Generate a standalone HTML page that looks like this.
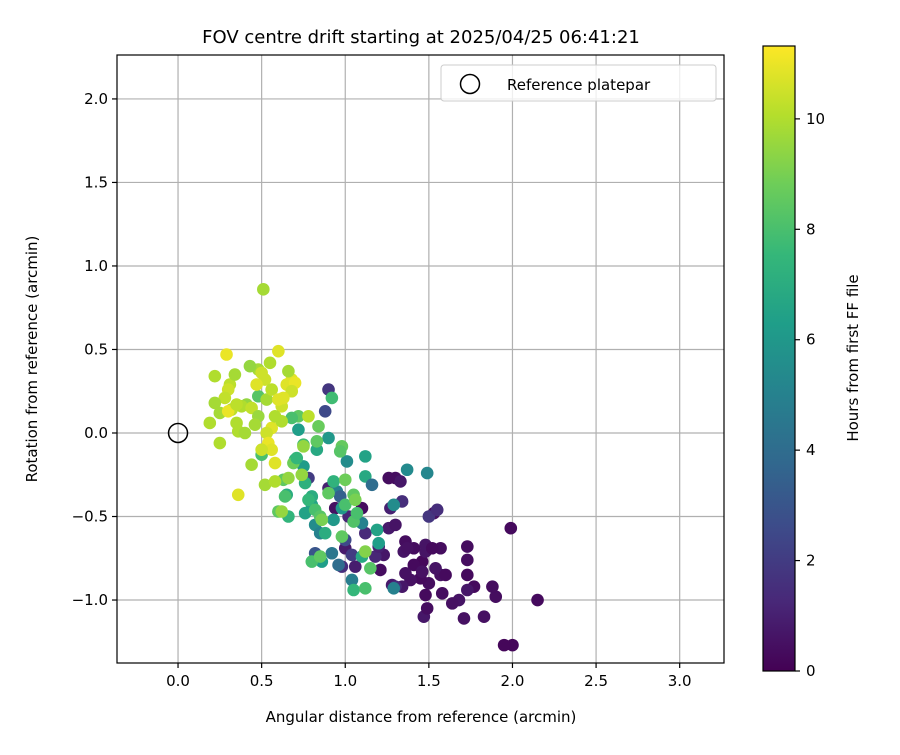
<!DOCTYPE html>
<html><head><meta charset="utf-8"><style>body{margin:0;background:#fff}svg{font-family:"DejaVu Sans","Liberation Sans",sans-serif}</style></head>
<body>
<svg id="c" width="900" height="750" xmlns="http://www.w3.org/2000/svg"></svg>
<script>
const xTicks=[0,0.5,1,1.5,2,2.5,3];
const yTicks=[-1,-0.5,0,0.5,1,1.5,2];
const cTicks=[0,2,4,6,8,10];
const px=[2.0,1.95,2.15,1.99,1.9,1.83,1.88,1.77,1.68,1.71,1.73,1.64,1.58,1.73,1.73,1.73,1.57,1.54,1.5,1.45,1.39,1.46,1.41,1.48,1.48,1.57,1.52,1.6,1.53,1.48,1.47,1.49,1.46,1.35,1.36,1.34,1.36,1.41,1.37,1.3,1.33,1.34,1.26,1.23,1.21,1.28,1.3,1.26,1.1,1.12,1.18,1.2,1.27,1.3,1.06,1.02,1.0,0.98,0.94,0.9,0.9,0.88,1.5,1.55,1.04,1.0,0.82,0.78,
1.37,1.49,1.29,1.29,1.19,1.12,1.01,1.12,1.16,1.04,1.1,1.05,1.12,0.93,0.9,0.95,0.8,0.75,0.72,0.83,0.82,0.85,0.76,0.7,0.65,0.66,0.76,0.8,0.88,0.98,1.2,0.92,0.96,0.86,0.93,0.97,1.1,
0.92,0.64,0.6,0.63,0.69,0.72,0.68,0.75,0.78,0.82,0.85,0.86,0.8,0.85,0.9,0.98,0.97,0.98,1.0,1.05,1.06,1.05,1.0,1.07,1.12,1.15,0.83,0.84,0.71,0.48,0.5,
0.51,0.55,0.6,0.48,0.43,0.29,0.22,0.31,0.34,0.3,0.41,0.38,0.28,0.22,0.25,0.32,0.3,0.19,0.35,0.36,0.4,0.44,0.48,0.53,0.52,0.5,0.47,0.56,0.62,0.65,0.68,0.7,0.68,0.63,0.6,0.56,0.53,0.54,0.56,0.5,0.44,0.52,0.58,0.62,0.58,0.58,0.62,0.36,0.25,0.66,0.66,0.78,0.75,0.74,0.35,0.46];
const py=[-1.27,-1.27,-1.0,-0.57,-0.98,-1.1,-0.92,-0.92,-1.0,-1.11,-0.94,-1.02,-0.96,-0.85,-0.76,-0.68,-0.85,-0.81,-0.9,-0.87,-0.88,-0.77,-0.79,-0.71,-0.67,-0.69,-0.69,-0.85,-0.48,-0.97,-1.1,-1.05,-0.83,-0.71,-0.84,-0.92,-0.65,-0.69,-0.69,-0.27,-0.29,-0.41,-0.27,-0.73,-0.82,-0.91,-0.92,-0.57,-0.45,-0.6,-0.74,-0.68,-0.45,-0.55,-0.8,-0.5,-0.69,-0.8,-0.45,-0.33,0.26,0.13,-0.5,-0.46,-0.73,-0.64,-0.72,-0.27,
-0.22,-0.24,-0.93,-0.43,-0.58,-0.14,-0.17,-0.26,-0.31,-0.88,-0.74,-0.94,-0.93,-0.52,-0.03,-0.35,-0.43,-0.2,0.02,-0.1,-0.55,-0.6,-0.48,-0.16,-0.37,-0.5,-0.3,-0.38,-0.6,-0.45,-0.66,-0.72,-0.79,-0.77,-0.29,-0.38,-0.54,
0.21,-0.38,-0.47,-0.28,-0.18,0.1,0.09,-0.07,-0.4,-0.46,-0.5,-0.52,-0.77,-0.74,-0.36,-0.08,-0.11,-0.62,-0.43,-0.37,-0.4,-0.53,-0.28,-0.48,-0.71,-0.81,-0.05,0.04,-0.15,0.22,-0.13,
0.86,0.42,0.49,0.38,0.4,0.47,0.34,0.29,0.35,0.26,0.17,0.16,0.21,0.18,0.12,0.14,0.13,0.06,0.06,0.01,0.0,0.15,0.1,0.2,0.32,0.36,0.29,0.26,0.16,0.29,0.32,0.3,0.25,0.21,0.2,0.03,0.0,-0.06,-0.1,-0.1,-0.19,-0.31,-0.18,0.07,0.1,-0.29,-0.47,-0.37,-0.06,0.37,-0.27,0.1,-0.08,-0.25,0.17,0.05];
const ph=[0.2,0.2,0.3,0.3,0.4,0.5,0.4,0.3,0.6,0.5,0.7,0.5,0.4,0.3,0.4,0.4,0.5,0.6,0.4,0.3,0.5,0.2,0.3,0.6,0.6,0.4,0.3,0.3,0.5,0.3,0.7,0.4,0.5,0.6,0.5,0.7,0.4,0.4,0.5,0.4,0.7,1.5,0.4,0.7,0.4,0.8,1.4,0.8,0.4,1.3,1.2,1.0,1.0,0.6,0.9,1.2,0.8,1.5,0.5,1.0,1.8,2.5,1.8,1.5,2.0,2.5,3.0,2.0,
5.4,5.2,5.0,5.5,6.5,6.5,5.5,6.8,4.0,4.8,6.8,7.5,8.0,6.0,6.0,5.0,6.5,6.2,6.3,6.8,5.5,5.0,6.5,7.0,7.0,7.4,7.2,7.0,7.0,6.0,6.3,4.5,4.0,6.3,7.3,3.5,5.0,
7.8,8.0,8.5,8.5,8.8,8.5,8.0,7.8,7.5,8.0,8.3,9.0,8.0,8.5,8.5,8.6,8.3,8.5,8.0,8.5,9.0,8.2,8.8,8.0,9.2,8.3,8.5,8.7,7.5,8.3,8.0,
9.8,10.0,10.8,9.8,9.5,11.0,10.0,10.2,9.8,10.5,9.5,10,10.3,9.8,9.8,10.2,11.0,10,10,10,9.8,10.3,9.6,9.8,10.5,10.5,10.8,10.2,10.5,10.8,10.8,11.0,10.5,10.8,10.8,10.8,10.5,11,10.8,10.5,9.8,9.8,10.8,10.0,10.0,10.0,9.5,10.8,10.0,9.8,9.5,10.2,9.5,9.5,10.2,9.8];
const X0=117,X1=724,Y0=55,Y1=663,xmin=-0.365,xmax=3.265,ymin=-1.377,ymax=2.263,HMAX=11.32;
const sx=v=>X0+(v-xmin)/(xmax-xmin)*(X1-X0);
const sy=v=>Y1-(v-ymin)/(ymax-ymin)*(Y1-Y0);
const CB0=46,CB1=671,scb=h=>CB1-h/HMAX*(CB1-CB0);
const vir=[[68,1,84],[72,40,120],[62,73,137],[49,104,142],[38,130,142],[31,158,137],[53,183,121],[109,205,89],[180,222,44],[253,231,37]];
function col(t){t=Math.max(0,Math.min(1,t))*9;const i=Math.min(8,Math.floor(t)),f=t-i;const a=vir[i],b=vir[i+1];return `rgb(${a.map((v,k)=>Math.round(v+(b[k]-v)*f)).join(',')})`;}
const svg=document.getElementById('c');const NS='http://www.w3.org/2000/svg';
function el(t,a,p){const e=document.createElementNS(NS,t);for(const k in a)e.setAttribute(k,a[k]);(p||svg).appendChild(e);return e;}
function txt(s,a){const e=el('text',a);e.textContent=s;return e;}
const g=el('g',{});
xTicks.forEach(v=>{el('line',{x1:sx(v),x2:sx(v),y1:Y0,y2:Y1,stroke:'#b0b0b0','stroke-width':1.2},g);
 el('line',{x1:sx(v),x2:sx(v),y1:Y1,y2:Y1+5,stroke:'#000','stroke-width':1.2});
 const t=txt(v.toFixed(1),{x:sx(v),y:Y1+23,'text-anchor':'middle','font-size':15});});
yTicks.forEach(v=>{el('line',{x1:X0,x2:X1,y1:sy(v),y2:sy(v),stroke:'#b0b0b0','stroke-width':1.2},g);
 el('line',{x1:X0-5,x2:X0,y1:sy(v),y2:sy(v),stroke:'#000','stroke-width':1.2});
 const t=txt((v<0?'\u2212'+(-v).toFixed(1):v.toFixed(1)),{x:X0-9,y:sy(v)+5,'text-anchor':'end','font-size':15});});
const pts=el('g',{});
for(let i=0;i<px.length;i++){const c=el('circle',{cx:sx(px[i]),cy:sy(py[i]),r:6.3,fill:col(ph[i]/HMAX)},pts);}
const ref=el('circle',{cx:sx(0),cy:sy(0),r:9.5,fill:'none',stroke:'#000','stroke-width':1.5});
el('rect',{x:X0,y:Y0,width:X1-X0,height:Y1-Y0,fill:'none',stroke:'#000','stroke-width':1.2});
const lg=el('g',{});
el('rect',{x:441,y:65,width:275,height:36,rx:3,fill:'#fff','fill-opacity':0.8,stroke:'#ccc'},lg);
el('circle',{cx:470,cy:84,r:9.5,fill:'none',stroke:'#000','stroke-width':1.5},lg);
const lt=txt('Reference platepar',{x:507,y:90,'font-size':15});
const ti=txt('FOV centre drift starting at 2025/04/25 06:41:21',{x:421,y:43,'text-anchor':'middle','font-size':18});
const xl=txt('Angular distance from reference (arcmin)',{x:421,y:722,'text-anchor':'middle','font-size':15});
const yl=txt('Rotation from reference (arcmin)',{x:0,y:0,'text-anchor':'middle','font-size':15,transform:'translate(37,359) rotate(-90)'});
const defs=el('defs',{});const lgd=el('linearGradient',{id:'vg',x1:0,y1:1,x2:0,y2:0},defs);
vir.forEach((c,i)=>el('stop',{offset:i/9,'stop-color':`rgb(${c.join(',')})`},lgd));
const cb=el('rect',{x:763,y:CB0,width:32,height:CB1-CB0,fill:'url(#vg)',stroke:'#000','stroke-width':1.2});
cTicks.forEach(v=>{el('line',{x1:795,x2:800,y1:scb(v),y2:scb(v),stroke:'#000','stroke-width':1.2});
 const t=txt(String(v),{x:806,y:scb(v)+5,'font-size':15});});
const cl=txt('Hours from first FF file',{x:0,y:0,'text-anchor':'middle','font-size':15,transform:'translate(858,358) rotate(-90)'});
</script>
</body></html>
